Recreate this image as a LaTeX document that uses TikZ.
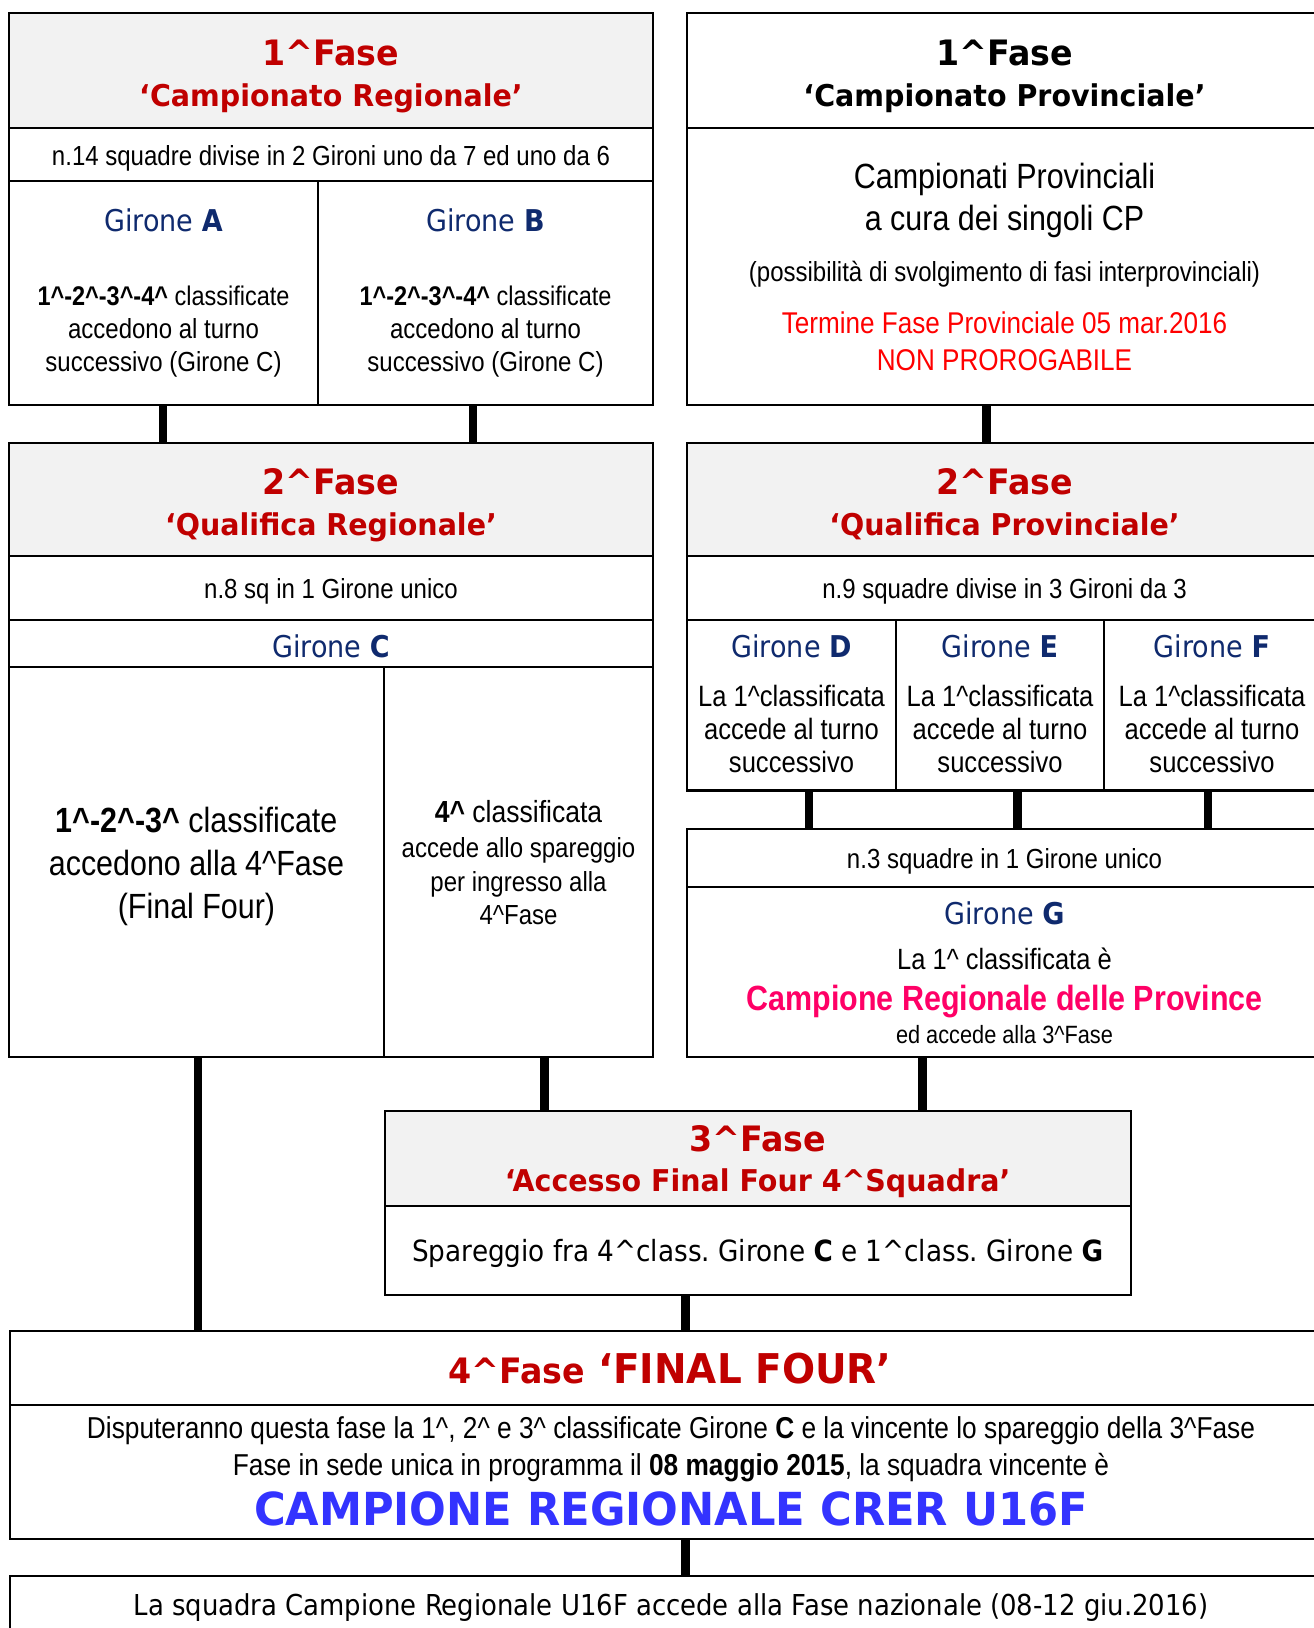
\documentclass[tikz,border=0pt]{standalone}
\usepackage{fontspec}
\setmainfont{Liberation Sans}
\newfontfamily\nar[FakeStretch=0.87]{Liberation Sans}
\newfontfamily\tah[FakeStretch=0.9]{DejaVu Sans}
\newfontfamily\ttl[FakeStretch=0.95]{DejaVu Sans}
\usetikzlibrary{fit,calc}
\definecolor{tred}{HTML}{C00000}
\definecolor{navy}{HTML}{0F2A6E}
\definecolor{hgray}{HTML}{F2F2F2}
\definecolor{bred}{HTML}{FF0000}
\definecolor{pink}{HTML}{FF0066}
\definecolor{vblue}{HTML}{3333FF}
\newcommand\crt{\textasciicircum}
\newcommand\fz[1]{\fontsize{#1}{#1}\selectfont}
\frenchspacing
\begin{document}
\frenchspacing
\begin{tikzpicture}[x=1pt,y=-1pt,
  cell/.style={draw=black, line width=2.3pt, inner sep=0pt, outer sep=0pt, fill=white},
  hdr/.style={cell, fill=hgray},
  conn/.style={line width=8.5pt},
  tx/.style={anchor=base, inner sep=0pt},
  ttlA/.style={tx, font=\ttl\bfseries\fz{35}, text=tred},
  ttlB/.style={tx, font=\ttl\bfseries\fz{30}, text=tred},
  nr/.style={tx, font=\nar\fz{27.6}},
  gir/.style={tx, font=\tah\fz{30}, text=navy}]
\path[use as bounding box] (0,0) rectangle (1314,1628);
\clip (0,0) rectangle (1314,1628);
\fill[white] (0,0) rectangle (1314,1628);

% ---------- cells ----------
\node[hdr, fit={(9,13) (653,128)}] (h1L) {};
\node[cell, fit={(9,128) (653,181)}] (r1L) {};
\node[cell, fit={(9,181) (318,405)}] (cA) {};
\node[cell, fit={(318,181) (653,405)}] (cB) {};

\node[cell, fit={(687,13) (1322,128)}] (h1R) {};
\node[cell, fit={(687,128) (1322,405)}] (b1R) {};

\node[hdr, fit={(9,443) (653,556)}] (h2L) {};
\node[cell, fit={(9,556) (653,620)}] (r2L) {};
\node[cell, fit={(9,620) (653,667)}] (gC) {};
\node[cell, fit={(9,667) (384,1057)}] (cC1) {};
\node[cell, fit={(384,667) (653,1057)}] (cC2) {};

\node[hdr, fit={(687,443) (1322,556)}] (h2R) {};
\node[cell, fit={(687,556) (1322,620)}] (r2R) {};
\node[cell, fit={(687,620) (896,790.5)}] (cD) {};
\node[cell, fit={(896,620) (1104,790.5)}] (cE) {};
\node[cell, fit={(1104,620) (1322,790.5)}] (cF) {};

\node[cell, fit={(687,828.7) (1322,887.2)}] (r3R) {};
\node[cell, fit={(687,887.2) (1322,1057)}] (cG) {};

\node[hdr, fit={(384.7,1111) (1130.8,1205.7)}] (h3) {};
\node[cell, fit={(384.7,1205.7) (1130.8,1295)}] (b3) {};

\node[cell, fit={(10,1330.7) (1332,1405)}] (h4) {};
\node[cell, fit={(10,1405) (1332,1539)}] (b4) {};
\node[cell, fit={(10,1575.7) (1332,1650)}] (b5) {};

% ---------- connectors ----------
\coordinate (k1) at ($(cA.south)+(-0.5,0)$);
\coordinate (k2) at ($(cB.south)+(-12.5,0)$);
\coordinate (k3) at ($(b1R.south)+(-18,0)$);
\coordinate (k4) at ($(cD.south)+(17.5,0)$);
\coordinate (k5) at ($(cE.south)+(17.6,0)$);
\coordinate (k6) at ($(cF.south)+(-5,0)$);
\coordinate (k7) at ($(cC1.south)+(1.3,0)$);
\coordinate (k8) at ($(cC2.south)+(26,0)$);
\coordinate (k9) at ($(cG.south)+(-82,0)$);
\coordinate (k10) at ($(b3.south)+(-72.1,0)$);
\coordinate (k11) at ($(b4.south)+(14.6,0)$);
\draw[conn] (k1) -- (k1 |- h2L.north);
\draw[conn] (k2) -- (k2 |- h2L.north);
\draw[conn] (k3) -- (k3 |- h2R.north);
\draw[conn] (k4) -- (k4 |- r3R.north);
\draw[conn] (k5) -- (k5 |- r3R.north);
\draw[conn] (k6) -- (k6 |- r3R.north);
\draw[conn] (k7) -- (k7 |- h4.north);
\draw[conn] (k8) -- (k8 |- h3.north);
\draw[conn] (k9) -- (k9 |- h3.north);
\draw[conn] (k10) -- (k10 |- h4.north);
\draw[conn] (k11) -- (k11 |- b5.north);

% ---------- texts: phase 1 ----------
\node[ttlA] (t1) at (331,65) {1\crt Fase};
\node[ttlB] (t2) at (331,106) {‘Campionato Regionale’};
\node[nr] (t3) at (331,165) {n.14 squadre divise in 2 Gironi uno da 7 ed uno da 6};
\node[gir] (t4) at (163.5,231.7) {Girone {\bfseries A}};
\node[gir] (t5) at (485.5,231.7) {Girone {\bfseries B}};
\node[nr, font=\nar\fz{27}] (t6) at (163.5,305) {\textbf{1\crt-2\crt-3\crt-4\crt} classificate};
\node[nr] (t7) at (163.5,338.3) {accedono al turno};
\node[nr] (t8) at (163.5,371.7) {successivo (Girone C)};
\node[nr, font=\nar\fz{27}] (t9) at (485.5,305) {\textbf{1\crt-2\crt-3\crt-4\crt} classificate};
\node[nr] (t10) at (485.5,338.3) {accedono al turno};
\node[nr] (t11) at (485.5,371.7) {successivo (Girone C)};

\node[ttlA, text=black] (t12) at (1004.5,65) {1\crt Fase};
\node[ttlB, text=black] (t13) at (1004.5,106) {‘Campionato Provinciale’};
\node[tx, font=\nar\fz{35}] (t14) at (1004.5,188.3) {Campionati Provinciali};
\node[tx, font=\nar\fz{35}] (t15) at (1004.5,230.7) {a cura dei singoli CP};
\node[nr] (t16) at (1004.5,281.7) {(possibilità di svolgimento di fasi interprovinciali)};
\node[tx, font=\nar\fz{30}, text=bred] (t17) at (1004.5,333.3) {Termine Fase Provinciale 05 mar.2016};
\node[tx, font=\nar\fz{30}, text=bred] (t18) at (1004.5,370.7) {NON PROROGABILE};

% ---------- texts: phase 2 ----------
\node[ttlA] (t19) at (331,494.7) {2\crt Fase};
\node[ttlB] (t20) at (331,535) {‘Qualifica Regionale’};
\node[nr] (t21) at (331,598.4) {n.8 sq in 1 Girone unico};
\node[gir] (t22) at (331,657.8) {Girone {\bfseries C}};
\node[tx, font=\nar\fz{35}] (t23) at (196.5,832) {\textbf{1\crt-2\crt-3\crt} classificate};
\node[tx, font=\nar\fz{35}] (t24) at (196.5,875) {accedono alla 4\crt Fase};
\node[tx, font=\nar\fz{35}] (t25) at (196.5,918) {(Final Four)};
\node[tx, font=\nar\fz{30.5}] (t26) at (518.5,822.5) {\textbf{4\crt} classificata};
\node[nr] (t27) at (518.5,857.8) {accede allo spareggio};
\node[nr] (t28) at (518.5,891) {per ingresso alla};
\node[nr] (t29) at (518.5,924) {4\crt Fase};

\node[ttlA] (t30) at (1004.5,494.7) {2\crt Fase};
\node[ttlB] (t31) at (1004.5,535) {‘Qualifica Provinciale’};
\node[nr] (t32) at (1004.5,598.4) {n.9 squadre divise in 3 Gironi da 3};
\node[gir] (t33) at (791.5,657.8) {Girone {\bfseries D}};
\node[gir] (t34) at (1000,657.8) {Girone {\bfseries E}};
\node[gir] (t35) at (1212,657.8) {Girone {\bfseries F}};
\node[tx, font=\nar\fz{29.4}] (t36) at (791.5,706.3) {La 1\crt classificata};
\node[tx, font=\nar\fz{29.4}] (t37) at (791.5,739.5) {accede al turno};
\node[tx, font=\nar\fz{29.4}] (t38) at (791.5,772.7) {successivo};
\node[tx, font=\nar\fz{29.4}] (t39) at (1000,706.3) {La 1\crt classificata};
\node[tx, font=\nar\fz{29.4}] (t40) at (1000,739.5) {accede al turno};
\node[tx, font=\nar\fz{29.4}] (t41) at (1000,772.7) {successivo};
\node[tx, font=\nar\fz{29.4}] (t42) at (1212,706.3) {La 1\crt classificata};
\node[tx, font=\nar\fz{29.4}] (t43) at (1212,739.5) {accede al turno};
\node[tx, font=\nar\fz{29.4}] (t44) at (1212,772.7) {successivo};

\node[nr] (t45) at (1004.5,868) {n.3 squadre in 1 Girone unico};
\node[gir] (t46) at (1004.5,924) {Girone {\bfseries G}};
\node[tx, font=\nar\fz{29.3}] (t47) at (1004.5,969) {La 1\crt{} classificata è};
\node[tx, font=\nar\bfseries\fz{35}, text=pink] (t48) at (1004.5,1010) {Campione Regionale delle Province};
\node[tx, font=\nar\fz{25}] (t49) at (1004.5,1043.7) {ed accede alla 3\crt Fase};

% ---------- texts: phase 3 ----------
\node[ttlA] (t50) at (757.7,1151.7) {3\crt Fase};
\node[ttlB] (t51) at (757.7,1191.7) {‘Accesso Final Four 4\crt Squadra’};
\node[tx, font=\tah\fz{29.2}] (t52) at (757.7,1261.7) {Spareggio fra 4\crt class. Girone {\bfseries C} e 1\crt class. Girone {\bfseries G}};

% ---------- texts: phase 4 ----------
\node[tx, text=tred, font=\ttl\bfseries\fz{41}] (t53) at (670,1383.3) {{\fz{35}4\crt Fase} ‘FINAL FOUR’};
\node[tx, font=\nar\fz{30.2}] (t54) at (671,1438.3) {Disputeranno questa fase la 1\crt, 2\crt{} e 3\crt{} classificate Girone \textbf{C} e la vincente lo spareggio della 3\crt Fase};
\node[tx, font=\nar\fz{30.2}] (t55) at (671,1475) {Fase in sede unica in programma il \textbf{08 maggio 2015}, la squadra vincente è};
\node[tx, font=\ttl\bfseries\fz{45.5}, text=vblue] (t56) at (671,1525) {CAMPIONE REGIONALE CRER U16F};
\node[tx, font=\tah\fz{28.8}] (t57) at (671,1615) {La squadra Campione Regionale U16F accede alla Fase nazionale (08-12 giu.2016)};
\end{tikzpicture}
\end{document}
